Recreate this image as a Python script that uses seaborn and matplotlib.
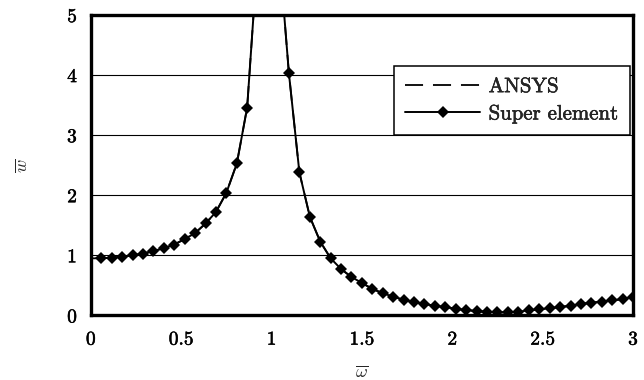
import matplotlib
matplotlib.use("Agg")
import matplotlib.pyplot as plt
import matplotlib.patheffects as pe
import numpy as np
import pandas as pd
import seaborn as sns

# ---- data ----
omega = [0.058, 0.115, 0.173, 0.231, 0.288, 0.346, 0.404, 0.462, 0.519, 0.577,
         0.635, 0.692, 0.750, 0.808, 0.865, 0.923, 0.981, 1.038, 1.096, 1.154,
         1.212, 1.269, 1.327, 1.385, 1.442, 1.500, 1.558, 1.615, 1.673, 1.731,
         1.788, 1.846, 1.904, 1.962, 2.019, 2.077, 2.135, 2.192, 2.250, 2.308,
         2.365, 2.423, 2.481, 2.538, 2.596, 2.654, 2.712, 2.769, 2.827, 2.885,
         2.942, 3.000]
w_super = [0.95, 0.96, 0.98, 1.00, 1.03, 1.07, 1.12, 1.18, 1.27, 1.37,
           1.53, 1.72, 2.04, 2.53, 3.46, 6.0, 30.0, 6.2, 4.03, 2.38,
           1.64, 1.23, 0.95, 0.77, 0.64, 0.54, 0.44, 0.37, 0.31, 0.26,
           0.22, 0.19, 0.16, 0.14, 0.11, 0.09, 0.07, 0.06, 0.05, 0.05,
           0.06, 0.085, 0.10, 0.12, 0.14, 0.16, 0.19, 0.21, 0.23, 0.25,
           0.27, 0.31]
omega_ansys = [0.0] + omega
w_ansys = [0.95] + w_super

x_ticks = [0, 0.5, 1, 1.5, 2, 2.5, 3]
x_ticklabels = ["0", "0.5", "1", "1.5", "2", "2.5", "3"]
y_ticks = [0, 1, 2, 3, 4, 5]
y_ticklabels = ["0", "1", "2", "3", "4", "5"]

sns.set_style("white")
plt.rcParams["font.family"] = "serif"
plt.rcParams["font.serif"] = ["cmr10"]
plt.rcParams["mathtext.fontset"] = "cm"
plt.rcParams["axes.formatter.use_mathtext"] = True

fig = plt.figure(figsize=(6.44, 3.80), dpi=100)
ax = fig.add_axes([0.141, 0.170, 0.842, 0.7905])

df_ansys = pd.DataFrame({"omega": omega_ansys, "w": w_ansys})
df_super = pd.DataFrame({"omega": omega, "w": w_super})

sns.lineplot(data=df_ansys, x="omega", y="w", ax=ax, color="black", lw=1.3,
             linestyle=(0, (10, 5.5)), label="ANSYS")
sns.lineplot(data=df_super, x="omega", y="w", ax=ax, color="black", lw=1.4,
             marker="D", markersize=6, markeredgewidth=0, label="Super element")

ax.set_xlim(0, 3)
ax.set_ylim(0, 5)
ax.set_xticks(x_ticks)
ax.set_xticklabels(x_ticklabels)
ax.set_yticks(y_ticks)
ax.set_yticklabels(y_ticklabels)

ax.yaxis.grid(True, color="black", lw=0.8)
ax.xaxis.grid(False)
ax.set_axisbelow(True)

for s in ax.spines.values():
    s.set_visible(True)
    s.set_linewidth(2.4)
    s.set_color("black")

ax.tick_params(axis="both", direction="out", length=4, width=1.8, color="black",
               labelsize=14, labelcolor="black")
ax.tick_params(axis="y", pad=6)
ax.tick_params(axis="x", pad=7)

bold = [pe.withStroke(linewidth=0.35, foreground="black")]
for t in ax.get_xticklabels() + ax.get_yticklabels():
    t.set_path_effects(bold)

ax.set_xlabel(r"$\overline{\omega}$", fontsize=13)
ax.set_ylabel(r"$\overline{w}$", fontsize=13)
ax.xaxis.set_label_coords(0.5, -0.165)
ax.yaxis.set_label_coords(-0.112, 0.5)

leg = ax.legend(loc="upper right", bbox_to_anchor=(0.994, 0.83), fontsize=15,
                frameon=True, fancybox=False, framealpha=1, edgecolor="black",
                handlelength=3.6, handletextpad=0.4, borderpad=0.55,
                labelspacing=0.42, borderaxespad=0)
leg.get_frame().set_linewidth(1.1)
for t in leg.get_texts():
    t.set_path_effects(bold)

fig.savefig("out.png", dpi=100)
